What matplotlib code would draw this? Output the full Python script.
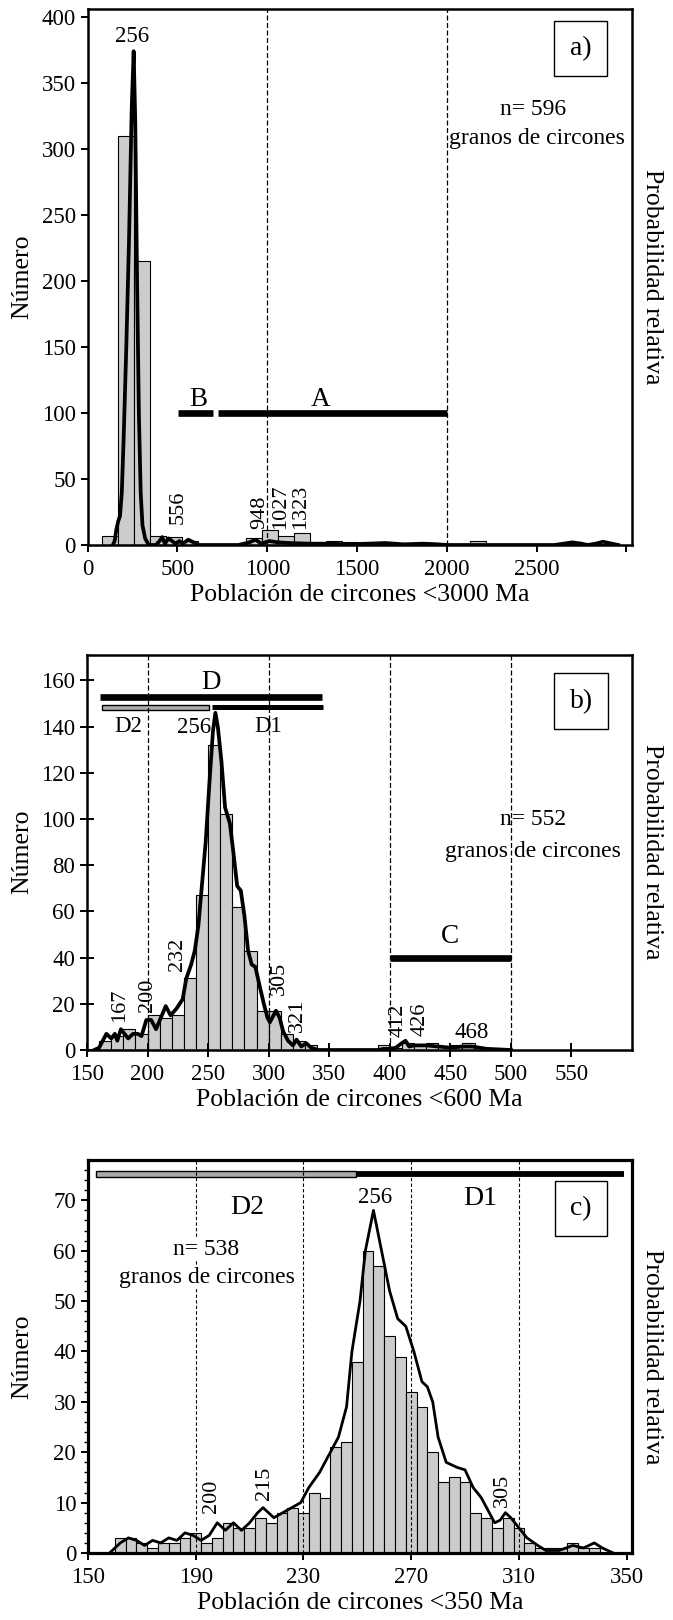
import matplotlib
matplotlib.use("Agg")
import matplotlib.pyplot as plt

plt.rcParams['font.family'] = ['Liberation Serif', 'DejaVu Serif']

# ---- panel a: <3000 Ma ----
a_left = [81, 170, 259, 348, 437, 526, 882, 971, 1060, 1149, 1238, 1327, 1416,
          1505, 1594, 1683, 1772, 1861, 2128, 2662, 2751, 2840]
a_count = [7, 310, 215, 7, 6, 3, 5, 11, 7, 9, 1, 3, 2, 1, 1, 1, 1, 1, 3, 1, 1, 1]
a_curve_x = [140, 150, 160, 170, 180, 190, 200, 215, 230, 245, 256, 265, 275, 285,
             295, 305, 320, 340, 380, 400, 415, 430, 450, 470, 490, 510, 530, 560,
             590, 620, 660, 840, 870, 900, 935, 967, 1010, 1060, 1126, 1233, 1339,
             1450, 1560, 1658, 1760, 1870, 1950, 2000, 2600, 2650, 2700, 2750, 2785,
             2830, 2870, 2920, 2955]
a_curve_y = [0, 3, 12, 18, 22, 40, 80, 150, 230, 330, 374, 320, 200, 100,
             40, 15, 5, 0, 0, 3, 6, 1, 5, 3, 1, 3, 1, 4,
             2, 0, 0, 0, 1, 2, 4, 1, 3, 2, 1.5, 1, 1,
             0.5, 1, 1.5, 0.5, 1, 0.5, 0, 0, 1, 2, 1, 0,
             1, 2.5, 1, 0]

# ---- panel b: <600 Ma ----
b_left = [160, 170, 180, 190, 200, 210, 220, 230, 240, 250, 260, 270, 280, 290,
          300, 310, 320, 330, 390, 400, 410, 420, 430, 450, 460]
b_count = [4, 6, 9, 7, 15, 14, 15, 31, 67, 132, 102, 62, 43, 17,
           17, 7, 4, 2, 2, 1, 3, 2, 3, 2, 3]
b_curve_x = [156, 160, 163, 166, 170, 173, 175, 178, 181, 184, 188, 192, 195, 199,
             203, 207, 211, 215, 219, 224, 229, 232, 236, 239, 242, 245, 248, 251,
             254, 256, 258, 261, 264, 268, 271, 274, 277, 280, 283, 286, 289, 292,
             296, 299, 301, 303, 306, 309, 312, 316, 320, 323, 327, 331, 335, 341,
             390, 395, 400, 405, 410, 413, 416, 420, 430, 440, 450, 460, 468, 480, 500]
b_curve_y = [0, 1, 4, 7, 5, 7, 4, 9, 7, 5, 7, 7, 6, 13,
             13, 9, 14, 19, 15, 18, 22, 31, 37, 43, 54, 72, 90, 115,
             138, 146, 140, 125, 105, 98, 85, 71, 69, 58, 43, 37, 36, 29,
             20, 14, 12, 14, 17, 14, 8, 4, 2, 4.5, 1.5, 3, 1, 0,
             0, 0.5, 0.5, 1, 3, 4, 1.5, 2, 2, 1.5, 1, 1.5, 1.5, 0.5, 0]

# ---- panel c: <350 Ma ----
c_left = [160, 164, 168, 172, 176, 180, 184, 188, 192, 196, 200, 204, 208, 212,
          216, 220, 224, 228, 232, 236, 240, 244, 248, 252, 256, 260, 264, 268,
          272, 276, 280, 284, 288, 292, 296, 300, 304, 308, 312, 316, 320, 324,
          328, 332, 336]
c_count = [3, 3, 2, 1, 2, 2, 3, 4, 2, 3, 6, 5, 5, 7,
           6, 8, 9, 8, 12, 11, 21, 22, 38, 60, 57, 43, 39, 32,
           29, 20, 14, 15, 14, 8, 7, 5, 7, 5, 2, 1, 1, 1,
           2, 1, 1]
c_curve_x = [158, 162, 165, 168, 171, 174, 177, 180, 183, 186, 189, 192, 195, 198,
             201, 204, 207, 210, 213, 215, 219, 224, 229, 232, 236, 240, 243, 246,
             248, 251, 253, 256, 259, 262, 265, 268, 271, 274, 276, 278, 280, 283,
             287, 290, 293, 296, 299, 301, 303, 305, 307, 310, 313, 317, 320, 325,
             330, 334, 338, 341, 345]
c_curve_y = [0, 2, 3, 2.5, 1.5, 2.5, 2, 3, 2.5, 4, 3.5, 2.5, 3.5, 6,
             4.5, 6, 4.5, 6, 8, 9, 7, 8.5, 10, 13, 16, 20, 23, 29,
             40, 50, 60, 68, 60, 52, 46.5, 45, 40, 34, 33, 30, 23, 18,
             17, 16.5, 13, 11, 8, 6, 6.5, 8, 7, 5, 3, 1.5, 0.5, 0.5,
             1.5, 1, 2, 1, 0]

W, H = 673, 1620
fig = plt.figure(figsize=(W / 100, H / 100), dpi=100)

TICK = 16.5
LAB = 18.5
ANN = 16.5
ROT = 16
NTXT = 17
BIG = 19.5
GRAY = '#cccccc'
BARGRAY = '#aaaaaa'
THICK = 4.8  # range bars (A, B, C, D)


def frame(ax, lw=1.6):
    for s in ax.spines.values():
        s.set_linewidth(lw)
    ax.tick_params(labelsize=TICK, width=1.4, length=5)
    ax.tick_params(axis='x', pad=5)


def side_labels(ycen):
    fig.text(22 / W, ycen, 'Número', rotation=90, ha='center', va='center', fontsize=LAB)
    fig.text(652 / W, ycen, 'Probabilidad relativa', rotation=270, ha='center',
             va='center', fontsize=LAB)


def boxlabel(ax, x, y, s):
    ax.text(x, y, s, fontsize=BIG + 0.5, ha='center', va='center',
            bbox=dict(boxstyle='square,pad=0.55', fc='white', ec='black', lw=1))


# ================= a =================
ax = fig.add_axes([87.7 / W, 1 - 545 / H, 544 / W, 536 / H])
ax.bar(a_left, a_count, width=89, align='edge', color=GRAY, edgecolor='black', lw=0.8)
ax.plot(a_curve_x, a_curve_y, color='black', lw=2.7)
ax.set_xlim(0, 3030)
ax.set_ylim(0, 406)
ax.set_xticks([0, 500, 1000, 1500, 2000, 2500, 3000])
ax.set_xticklabels(['0', '500', '1000', '1500', '2000', '2500', ''])
ax.set_yticks(range(0, 401, 50))
for xv in (1000, 2000):
    ax.axvline(xv, color='black', ls=(0, (4, 2)), lw=0.9)
ax.plot([505, 697], [100, 100], color='black', lw=THICK, solid_capstyle='butt')
ax.plot([727, 2000], [100, 100], color='black', lw=THICK, solid_capstyle='butt')
ax.text(616, 101, 'B', fontsize=BIG, ha='center', va='bottom')
ax.text(1296, 101, 'A', fontsize=BIG, ha='center', va='bottom')
ax.text(248, 377, '256', fontsize=ANN, ha='center', va='bottom')
for xv, yv, s in [(505, 16, '556'), (956, 12, '948'), (1073, 12, '1027'), (1186, 12, '1323')]:
    ax.text(xv, yv, s, rotation=90, fontsize=ROT, ha='center', va='bottom')
ax.text(2480, 330, 'n= 596', fontsize=NTXT, ha='center', va='center')
ax.text(2500, 308, 'granos de circones', fontsize=NTXT, ha='center', va='center')
boxlabel(ax, 2745, 376, 'a)')
frame(ax, 1.8)
ax.tick_params(direction='out')
ax.set_xlabel('Población de circones <3000 Ma', fontsize=LAB, labelpad=3)
side_labels(1 - 277 / H)

# ================= b =================
ax = fig.add_axes([87 / W, 1 - 1050 / H, 545 / W, 395 / H])
ax.bar(b_left, b_count, width=10, align='edge', color=GRAY, edgecolor='black', lw=0.8)
ax.plot(b_curve_x, b_curve_y, color='black', lw=2.7)
ax.set_xlim(150, 600)
ax.set_ylim(0, 171)
ax.set_xticks([150, 200, 250, 300, 350, 400, 450, 500, 550])
ax.set_yticks(range(0, 161, 20))
for xv in (200, 300, 400, 500):
    ax.axvline(xv, color='black', ls=(0, (4, 2)), lw=0.9)
ax.plot([161, 344], [153, 153], color='black', lw=THICK, solid_capstyle='butt')
ax.barh(148.3, 89, left=162, height=2.0, color=BARGRAY, edgecolor='black', lw=1)
ax.plot([253.5, 345], [148.3, 148.3], color='black', lw=3.6, solid_capstyle='butt')
ax.plot([400, 500], [40, 40], color='black', lw=THICK, solid_capstyle='butt')
ax.text(252.5, 159, 'D', fontsize=BIG, ha='center', va='center')
ax.text(184, 140, 'D2', fontsize=ANN, ha='center', va='center')
ax.text(300, 140, 'D1', fontsize=ANN, ha='center', va='center')
ax.text(238, 139.5, '256', fontsize=ANN, ha='center', va='center')
ax.text(450, 49, 'C', fontsize=BIG, ha='center', va='center')
for xv, yv, s in [(177, 12, '167'), (200, 16.5, '200'), (225, 34, '232'), (309, 24, '305'),
                  (324, 8, '321'), (407, 5.5, '412'), (425, 6, '426')]:
    ax.text(xv, yv, s, rotation=90, fontsize=ROT, ha='center', va='bottom')
ax.text(468, 3, '468', fontsize=ANN, ha='center', va='bottom')
ax.text(518, 100, 'n= 552', fontsize=NTXT, ha='center', va='center')
ax.text(518, 86, 'granos de circones', fontsize=NTXT, ha='center', va='center')
boxlabel(ax, 558, 151, 'b)')
frame(ax, 1.8)
ax.tick_params(direction='inout', length=10)
ax.set_xlabel('Población de circones <600 Ma', fontsize=LAB, labelpad=3)
side_labels(1 - 852 / H)

# ================= c =================
ax = fig.add_axes([88 / W, 1 - 1553 / H, 544 / W, 393 / H])
ax.bar(c_left, c_count, width=4, align='edge', color=GRAY, edgecolor='black', lw=0.8)
ax.plot(c_curve_x, c_curve_y, color='black', lw=2.0)
ax.set_xlim(150, 352)
ax.set_ylim(0, 78)
ax.set_xticks([150, 190, 230, 270, 310, 350])
ax.set_yticks(range(0, 71, 10))
ax.set_yticks(range(0, 77, 2), minor=True)
for xv in (190, 230, 270, 310):
    ax.axvline(xv, color='black', ls=(0, (3, 2)), lw=0.8)
ax.barh(75.2, 96.6, left=153, height=1.1, color=BARGRAY, edgecolor='black', lw=1)
ax.plot([249.6, 349], [75.2, 75.2], color='black', lw=4.2, solid_capstyle='butt')
ax.text(209, 68.6, 'D2', fontsize=BIG + 0.5, ha='center', va='center')
ax.text(295.7, 70.3, 'D1', fontsize=BIG + 0.5, ha='center', va='center')
ax.text(256.7, 70.6, '256', fontsize=ANN, ha='center', va='center')
for xv, yv, s in [(196, 8, '200'), (215.4, 10.5, '215'), (304, 9.2, '305')]:
    ax.text(xv, yv, s, rotation=90, fontsize=ROT, ha='center', va='bottom')
for yv, s in [(60.3, 'n= 538'), (54.7, 'granos de circones')]:
    ax.text(194, yv, s, fontsize=NTXT, ha='center', va='center',
            bbox=dict(fc='white', ec='none', pad=0.5))
boxlabel(ax, 333, 68.4, 'c)')
frame(ax, 2.3)
ax.tick_params(direction='out')
ax.tick_params(which='minor', direction='out', length=3, width=1)
ax.set_xlabel('Población de circones <350 Ma', fontsize=LAB, labelpad=3)
side_labels(1 - 1357 / H)

fig.savefig('out.png', dpi=100)
